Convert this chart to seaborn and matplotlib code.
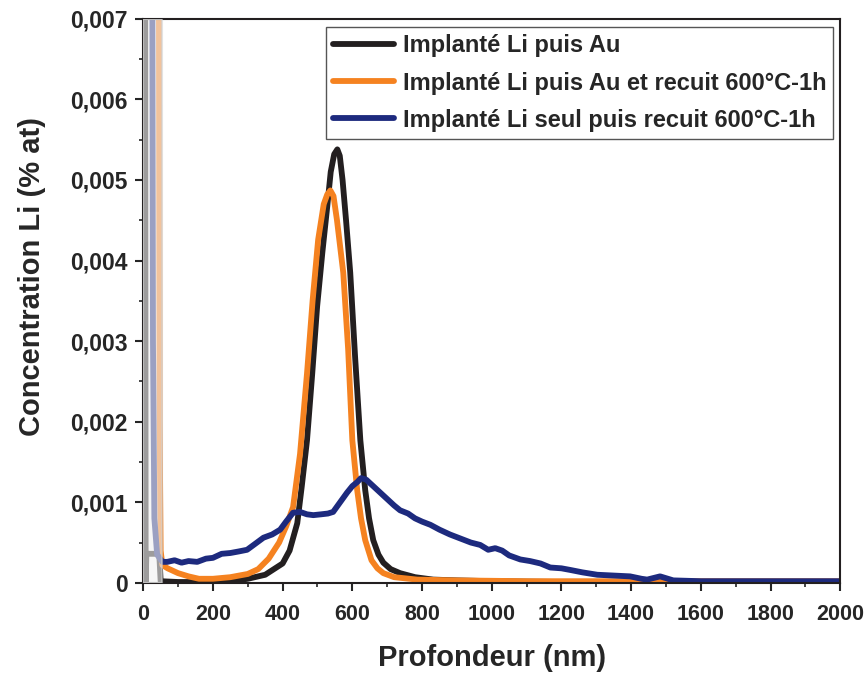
import matplotlib
matplotlib.use("Agg")
import matplotlib.pyplot as plt
import matplotlib.ticker as mticker
import seaborn as sns

# Profils SIMS du lithium
black_x = [0, 5, 7, 9, 46, 50, 100, 150, 200, 250, 300, 350, 400, 420, 442, 455, 470, 485, 499,
           514, 528, 538, 548, 557, 564, 572, 582, 594, 608, 623, 637, 648, 660, 675, 689, 710,
           737, 780, 832, 900, 1000, 1200, 1500, 2000]
black_y = [0.01, 0.01, 0.0, 0.00036, 0.00036, 0.00002, 0.00001, 0.00001, 0.00002, 0.00002, 0.00005,
           0.0001, 0.00024, 0.0004, 0.00074, 0.0012, 0.00177, 0.0026, 0.00343, 0.0041, 0.00467,
           0.0051, 0.00532, 0.00538, 0.0053, 0.0050, 0.0045, 0.00385, 0.0028, 0.00177, 0.00115,
           0.0008, 0.00053, 0.00035, 0.00025, 0.00017, 0.00012, 0.00007, 0.00004, 0.00003,
           0.00002, 0.00001, 0.00001, 0.00001]

orange_x = [44, 47, 50, 55, 70, 100, 130, 160, 200, 250, 300, 330, 360, 390, 410, 430, 450, 470,
            486, 502, 518, 528, 537, 546, 556, 574, 588, 600, 614, 625, 637, 655, 672, 689, 720,
            786, 900, 1100, 1500, 2000]
orange_y = [0.01, 0.002, 0.0004, 0.00022, 0.00018, 0.00012, 0.00008, 0.00005, 0.00005, 0.00007,
            0.00011, 0.00017, 0.0003, 0.0005, 0.0007, 0.00094, 0.0016, 0.0026, 0.0035, 0.00426,
            0.0047, 0.00482, 0.00487, 0.0048, 0.0045, 0.00385, 0.0029, 0.00177, 0.00115, 0.0008,
            0.00053, 0.00028, 0.00018, 0.00012, 0.00007, 0.00004, 0.00003, 0.00002, 0.00002,
            0.00002]

blue_x = [25, 28, 32, 40, 55, 69, 90, 110, 130, 155, 180, 200, 225, 250, 275, 298, 320, 345, 370,
          393, 410, 430, 450, 470, 488, 510, 530, 545, 565, 585, 600, 614, 625, 640, 660, 680,
          700, 720, 737, 760, 780, 800, 824, 850, 880, 910, 940, 967, 990, 1010, 1030, 1050,
          1082, 1110, 1140, 1168, 1200, 1225, 1260, 1303, 1350, 1397, 1430, 1446, 1483, 1521,
          1600, 1700, 1800, 1900, 2000]
blue_y = [0.01, 0.003, 0.0008, 0.00035, 0.00026, 0.00026, 0.00028, 0.00025, 0.00027, 0.00026,
          0.0003, 0.00031, 0.00036, 0.00037, 0.00039, 0.00041, 0.00048, 0.00056, 0.0006, 0.00066,
          0.00076, 0.00087, 0.00088, 0.00085, 0.00084, 0.00085, 0.00086, 0.00088, 0.001, 0.00112,
          0.0012, 0.00125, 0.0013, 0.00128, 0.0012, 0.00112, 0.00104, 0.00096, 0.0009, 0.00086,
          0.0008, 0.00076, 0.00072, 0.00066, 0.0006, 0.00055, 0.0005, 0.00047, 0.00041, 0.00043,
          0.0004, 0.00034, 0.00029, 0.00027, 0.00024, 0.00019, 0.00018, 0.00016, 0.00013, 0.0001,
          0.00009, 0.00008, 0.00005, 0.00004, 0.00008, 0.00003, 0.00002, 0.00002, 0.00002,
          0.00002, 0.00002]

labels = ["Implanté Li puis Au",
          "Implanté Li puis Au et recuit 600°C-1h",
          "Implanté Li seul puis recuit 600°C-1h"]
colors = ["#231f20", "#f58220", "#1d2a7e"]

sns.set_style("ticks")
plt.rcParams['font.family'] = ['Liberation Sans', 'DejaVu Sans']
plt.rcParams['font.weight'] = 'bold'

fig = plt.figure(figsize=(8.68, 6.73), dpi=100)
ax = fig.add_axes([0.165, 0.134, 0.803, 0.838])

for xs, ys, lab, col in zip([black_x, orange_x, blue_x], [black_y, orange_y, blue_y], labels, colors):
    sns.lineplot(x=xs, y=ys, ax=ax, color=col, lw=4.2, label=lab,
                 solid_joinstyle='round', solid_capstyle='round')

# zone de surface estompée
ax.axvspan(0, 55, facecolor='#f0f0f0', edgecolor='#cfcfcf', lw=1.5, alpha=0.6, zorder=5)

ax.set_xlim(0, 2000)
ax.set_ylim(0, 0.007)
ax.xaxis.set_major_locator(mticker.MultipleLocator(200))
ax.xaxis.set_minor_locator(mticker.MultipleLocator(100))
ax.yaxis.set_major_locator(mticker.MultipleLocator(0.001))
ax.yaxis.set_minor_locator(mticker.MultipleLocator(0.0005))
ax.yaxis.set_major_formatter(mticker.FuncFormatter(
    lambda v, p: "0" if abs(v) < 1e-9 else f"{v:.3f}".replace(".", ",")))

ax.tick_params(which='major', direction='out', length=6, width=1.5)
ax.tick_params(axis='x', which='major', labelsize=15.5, pad=9)
ax.tick_params(axis='y', which='major', labelsize=16.5, pad=5)
ax.tick_params(which='minor', direction='out', length=3, width=1.2)
for lbl in ax.get_xticklabels() + ax.get_yticklabels():
    lbl.set_fontweight('bold')
for s in ax.spines.values():
    s.set_linewidth(1.5)
    s.set_color('#231f20')

ax.set_xlabel("Profondeur (nm)", fontsize=21, fontweight='bold', labelpad=14)
ax.set_ylabel("Concentration Li (% at)", fontsize=21, fontweight='bold')
ax.yaxis.set_label_coords(-0.139, 0.543)

leg = ax.legend(loc='upper right', bbox_to_anchor=(0.99, 0.985), borderaxespad=0,
                fancybox=False, edgecolor='#555555', framealpha=1,
                prop={'size': 17, 'weight': 'bold'}, handlelength=2.6,
                handletextpad=0.35, labelspacing=0.6, borderpad=0.3)
leg.get_frame().set_linewidth(1.0)

fig.savefig("out.png", dpi=100)
